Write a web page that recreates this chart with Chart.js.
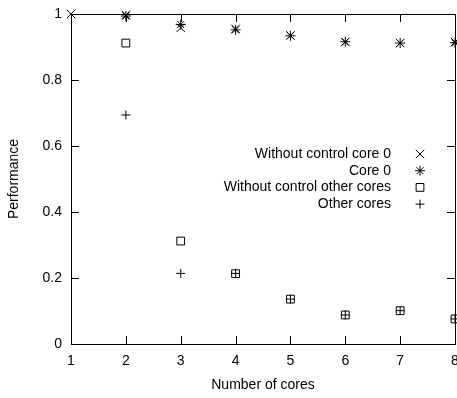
<!DOCTYPE html>
<html lang="en">
<head>
<meta charset="utf-8">
<title>Performance vs number of cores</title>
<script src="https://cdn.jsdelivr.net/npm/chart.js"></script>
<style>
  html, body { margin: 0; padding: 0; background: #fff; }
  #wrap { width: 457px; height: 398px; }
</style>
</head>
<body>
<div id="wrap"><canvas id="perf-chart"></canvas></div>
<script>
  // values
  const cores = [1, 2, 3, 4, 5, 6, 7, 8];
  const noCtrlCore0 = [1.0, 0.997, 0.958, 0.955, 0.935, 0.915, 0.912, 0.915];
  const core0 = [null, 0.994, 0.968, 0.952, 0.934, 0.916, 0.912, 0.913];
  const noCtrlOther = [null, 0.912, 0.312, 0.213, 0.136, 0.088, 0.101, 0.076];
  const otherCores = [null, 0.694, 0.214, 0.214, 0.136, 0.088, 0.101, 0.076];
  const seriesNames = ['Without control core 0', 'Core 0', 'Without control other cores', 'Other cores'];
  const yTicks = [0, 0.2, 0.4, 0.6, 0.8, 1];

  const FONT = '"Liberation Sans", Arial, sans-serif';
  const INK = '#000';

  function toPoints(vals) {
    return cores.map((c, i) => ({ x: c, y: vals[i] })).filter(p => p.y !== null);
  }

  function series(label, vals, style, radius) {
    return {
      label: label,
      data: toPoints(vals),
      showLine: false,
      pointStyle: style,
      pointRadius: radius,
      pointHoverRadius: radius,
      pointBorderWidth: 1,
      pointBorderColor: INK,
      pointBackgroundColor: 'rgba(0,0,0,0)',
      clip: false
    };
  }

  // gnuplot-like frame: box border, inward ticks on all four sides, legend inside
  const framePlugin = {
    id: 'frame',
    afterDatasetsDraw(chart) {
      const { ctx, chartArea: a, scales: { x, y } } = chart;
      const tl = 8;
      ctx.save();
      ctx.strokeStyle = INK;
      ctx.lineWidth = 1;
      ctx.beginPath();
      cores.forEach(c => {
        const px = Math.round(x.getPixelForValue(c)) + 0.5;
        ctx.moveTo(px, a.bottom); ctx.lineTo(px, a.bottom - tl);
        ctx.moveTo(px, a.top); ctx.lineTo(px, a.top + tl);
      });
      yTicks.forEach(v => {
        const py = Math.round(y.getPixelForValue(v)) + 0.5;
        ctx.moveTo(a.left, py); ctx.lineTo(a.left + tl, py);
        ctx.moveTo(a.right, py); ctx.lineTo(a.right - tl, py);
      });
      ctx.stroke();
      ctx.strokeRect(Math.round(a.left) + 0.5, Math.round(a.top) + 0.5,
        Math.round(a.right - a.left), Math.round(a.bottom - a.top));

      // legend
      const sets = chart.data.datasets;
      ctx.font = '14px ' + FONT;
      ctx.fillStyle = INK;
      ctx.textAlign = 'right';
      ctx.textBaseline = 'middle';
      sets.forEach((ds, i) => {
        const ly = 154 + i * 16.7;
        ctx.fillText(ds.label, 391, ly);
        ctx.fillStyle = 'rgba(0,0,0,0)';
        Chart.helpers.drawPoint(ctx, {
          pointStyle: ds.pointStyle, radius: ds.pointRadius, rotation: 0, borderWidth: 1
        }, 420, ly);
        ctx.fillStyle = INK;
      });
      ctx.restore();
    }
  };

  new Chart(document.getElementById('perf-chart'), {
    type: 'scatter',
    data: {
      datasets: [
        series(seriesNames[0], noCtrlCore0, 'crossRot', 6),
        series(seriesNames[1], core0, 'star', 5),
        series(seriesNames[2], noCtrlOther, 'rect', 5.5),
        series(seriesNames[3], otherCores, 'cross', 4.5)
      ]
    },
    options: {
      responsive: true,
      maintainAspectRatio: false,
      animation: false,
      events: [],
      layout: { autoPadding: false, padding: { top: 14, right: 2, left: 0, bottom: 0 } },
      plugins: { legend: { display: false }, tooltip: { enabled: false } },
      scales: {
        x: {
          type: 'linear', min: 1, max: 8,
          grid: { display: false, drawTicks: false },
          border: { display: false },
          ticks: { stepSize: 1, padding: 9, color: INK, font: { family: FONT, size: 14 }, maxRotation: 0 },
          title: { display: true, text: 'Number of cores', color: INK, font: { family: FONT, size: 14 }, padding: { top: 0, bottom: 4 } },
          afterFit(scale) {
            scale.height = 54;
            scale.paddingLeft = 0;
            scale.paddingRight = 0;
          }
        },
        y: {
          type: 'linear', min: 0, max: 1,
          grid: { display: false, drawTicks: false },
          border: { display: false },
          ticks: {
            stepSize: 0.2, padding: 9, color: INK, font: { family: FONT, size: 14 },
            callback: v => String(+v.toFixed(2))
          },
          title: { display: true, text: 'Performance', color: INK, font: { family: FONT, size: 14 }, padding: { top: 6, bottom: 0 } },
          afterFit(scale) {
            scale.width = 71;
            scale.paddingTop = 0;
            scale.paddingBottom = 0;
          }
        }
      }
    },
    plugins: [framePlugin]
  });
</script>
</body>
</html>
